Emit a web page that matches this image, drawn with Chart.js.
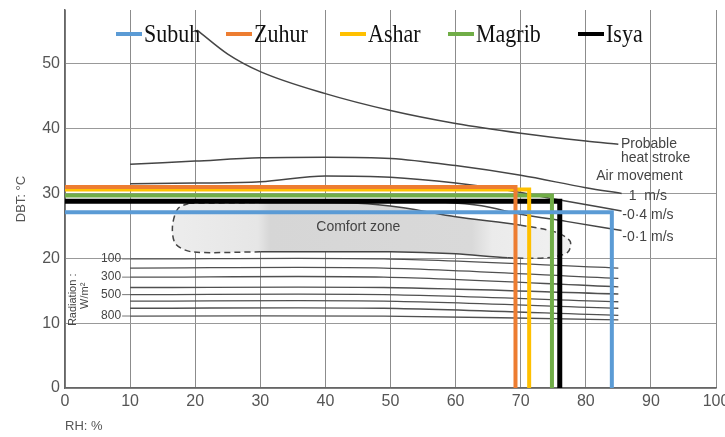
<!DOCTYPE html>
<html>
<head>
<meta charset="utf-8">
<script src="https://cdn.jsdelivr.net/npm/chart.js@4.4.1/dist/chart.umd.min.js"></script>
<style>
    html, body { margin: 0; padding: 0; background: #fff; }
    #wrap { width: 725px; height: 437px; }
</style>
</head>
<body>
<div id="wrap"><canvas id="bioChart" width="725" height="437"></canvas></div>
<script>
// room condition at each prayer time (RH %, DBT °C)
const sessions = ['Subuh', 'Zuhur', 'Ashar', 'Magrib', 'Isya'];
const rhValues = [84.0, 69.2, 71.3, 74.8, 76.0];
const dbtValues = [27.1, 31.0, 30.6, 29.7, 28.8];

// axis ticks
const rhTicks = [0, 10, 20, 30, 40, 50, 60, 70, 80, 90, 100];
const dbtTicks = [0, 10, 20, 30, 40, 50];

// bioclimatic chart curves, [RH, DBT]
const heatStroke = [[20.3, 55.2], [25, 51.5], [30, 48.8], [40, 45.4], [50, 42.8], [60, 40.8], [70, 39.3], [80, 38.1], [85, 37.6]];
const air1 = [[10, 34.5], [20, 35.0], [30, 35.5], [40, 35.6], [50, 35.4], [60, 34.3], [70, 32.8], [80, 30.9], [85.5, 30.0]];
const air04 = [[10, 31.5], [20, 31.6], [30, 31.8], [40, 32.7], [50, 32.5], [60, 31.6], [68, 30.5], [76, 29.0], [85.5, 27.3]];
const air01 = [[50, 29.0], [58, 28.7], [64, 28.1], [70, 26.8], [77, 25.7], [85.5, 24.3]];
const comfortZone = [[19, 28.5], [30, 28.6], [45, 28.5], [52, 27.8], [60, 26.4], [70, 25.1], [75.5, 24.0], [77.6, 22.6],
    [77.2, 20.9], [74, 20.1], [68, 20.1], [60, 20.7], [50, 21.0], [30, 21.0], [19.5, 21.0], [17, 22.2], [16.5, 24.8], [17.3, 27.6], [19, 28.5]];

// radiation lines (W/m2): DBT at RH 10, RH 49 and RH 85
const radLevels = [100, 200, 300, 400, 500, 600, 700, 800];
const radRH = [10, 49, 85];
const radAtLeft = [19.9, 18.5, 17.1, 15.5, 14.4, 13.4, 12.3, 11.1];
const radAtRight = [18.5, 16.9, 15.6, 14.5, 13.3, 12.3, 11.2, 10.5];
const radShown = [100, 300, 500, 800];

const sessionColors = ['#5b9bd5', '#ed7d31', '#ffc000', '#70ad47', '#000000'];
const legendSlots = [116, 226, 340, 448, 578];
const ink = '#454545';

const toPts = arr => arr.map(p => ({ x: p[0], y: p[1] }));

function curve(label, arr) {
    return {
        label: label,
        data: toPts(arr),
        borderColor: ink,
        borderWidth: 1.5,
        pointRadius: 0,
        cubicInterpolationMode: 'monotone',
        fill: false,
        order: 5
    };
}

let datasets = sessions.map((name, i) => ({
    label: name,
    data: [{ x: 0, y: dbtValues[i] }, { x: rhValues[i], y: dbtValues[i] }, { x: rhValues[i], y: 0 }],
    borderColor: sessionColors[i],
    borderWidth: i == 4 ? 5 : 4,
    pointRadius: 0,
    tension: 0,
    fill: false,
    order: 0
}));

// comfort zone: one dataset for the grey area, one for the outline
datasets.push({
    label: 'Comfort zone area',
    data: toPts(comfortZone),
    borderWidth: 0,
    borderColor: 'rgba(0,0,0,0)',
    pointRadius: 0,
    tension: 0.3,
    fill: 'shape',
    backgroundColor: (c) => {
        const chart = c.chart;
        if (!chart.chartArea) return '#dddddd';
        const xs = chart.scales.x;
        const g = chart.ctx.createLinearGradient(xs.getPixelForValue(16), 0, xs.getPixelForValue(78), 0);
        g.addColorStop(0, '#ededed');
        g.addColorStop(0.22, '#e6e6e6');
        g.addColorStop(0.25, '#d6d6d6');
        g.addColorStop(0.75, '#d9d9d9');
        g.addColorStop(0.8, '#ebebeb');
        g.addColorStop(1, '#f1f1f1');
        return g;
    },
    order: 7
});
datasets.push({
    label: 'Comfort zone',
    data: toPts(comfortZone),
    borderColor: ink,
    borderWidth: 1.5,
    borderDash: [],
    pointRadius: 0,
    tension: 0.3,
    fill: false,
    segment: {
        borderDash: (c) => {
            const a = comfortZone[c.p0DataIndex], b = comfortZone[c.p1DataIndex];
            const solid = Math.min(a[0], b[0]) >= 29 && Math.max(a[0], b[0]) <= 70.5;
            return solid ? [] : [6, 4];
        }
    },
    order: 6
});

datasets.push(curve('Probable heat stroke', heatStroke));
datasets.push(curve('1 m/s', air1));
datasets.push(curve('0·4 m/s', air04));
datasets.push(curve('0·1 m/s', air01));

radLevels.forEach((lv, i) => {
    datasets.push({
        label: lv + ' W/m²',
        data: [{ x: radRH[0], y: radAtLeft[i] }, { x: radRH[1], y: radAtLeft[i] }, { x: radRH[2], y: radAtRight[i] }],
        borderColor: '#505050',
        borderWidth: 1.3,
        pointRadius: 0,
        tension: 0.3,
        fill: false,
        order: 5
    });
});

// text written on the chart itself
const chartNotes = [
    { text: 'Probable', x: 85.4, y: 37.6, size: 14 },
    { text: 'heat stroke', x: 85.4, y: 35.5, size: 14 },
    { text: 'Air movement', x: 81.6, y: 32.6, size: 14 },
    { text: '1  m/s', x: 86.6, y: 29.6, size: 14 },
    { text: '-0·4 m/s', x: 85.6, y: 26.7, size: 14 },
    { text: '-0·1 m/s', x: 85.6, y: 23.3, size: 14 },
    { text: 'Comfort zone', x: 38.6, y: 24.8, size: 14 }
];

const notesPlugin = {
    id: 'notesPlugin',
    afterDatasetsDraw(chart) {
        const ctx = chart.ctx, xs = chart.scales.x, ys = chart.scales.y;
        ctx.save();
        ctx.fillStyle = '#444';
        ctx.textBaseline = 'middle';
        chartNotes.forEach(n => {
            ctx.font = n.size + 'px "Liberation Sans"';
            ctx.fillText(n.text, xs.getPixelForValue(n.x), ys.getPixelForValue(n.y));
        });
        // radiation labels
        ctx.font = '12px "Liberation Sans"';
        ctx.textAlign = 'right';
        ctx.strokeStyle = '#777';
        ctx.lineWidth = 1;
        radLevels.forEach((lv, i) => {
            if (radShown.indexOf(lv) < 0) return;
            const py = ys.getPixelForValue(radAtLeft[i]);
            const px = xs.getPixelForValue(radRH[0]);
            ctx.fillText(String(lv), px - 9, py);
            ctx.beginPath();
            ctx.moveTo(px - 8, py);
            ctx.lineTo(px, py);
            ctx.stroke();
        });
        ctx.textAlign = 'center';
        ctx.font = '11px "Liberation Sans"';
        ctx.translate(xs.getPixelForValue(1.3), ys.getPixelForValue(13.6));
        ctx.rotate(-Math.PI / 2);
        ctx.fillText('Radiation :', 0, 0);
        ctx.fillText('W/m²', 4, 12);
        ctx.restore();
    }
};

const sessionLegend = {
    id: 'sessionLegend',
    afterDraw(chart) {
        const ctx = chart.ctx;
        ctx.save();
        ctx.font = '22px "Liberation Serif"';
        ctx.textBaseline = 'middle';
        sessions.forEach((name, i) => {
            const x = legendSlots[i];
            ctx.strokeStyle = sessionColors[i];
            ctx.lineWidth = 4;
            ctx.beginPath();
            ctx.moveTo(x, 34);
            ctx.lineTo(x + 26, 34);
            ctx.stroke();
            ctx.save();
            ctx.translate(x + 28, 34);
            ctx.scale(1, 1.15);
            ctx.fillStyle = '#111';
            ctx.fillText(name, 0, 1);
            ctx.restore();
        });
        ctx.restore();
    }
};

const tickFont = { family: 'Liberation Sans', size: 16 };

new Chart(document.getElementById('bioChart'), {
    type: 'line',
    data: { datasets: datasets },
    options: {
        responsive: false,
        animation: false,
        devicePixelRatio: 1,
        layout: { padding: { top: 10, right: 9, left: 0, bottom: 0 } },
        plugins: {
            legend: { display: false },
            tooltip: { enabled: false }
        },
        scales: {
            x: {
                type: 'linear',
                min: 0,
                max: 100,
                afterBuildTicks: s => { s.ticks = rhTicks.map(v => ({ value: v })); },
                afterFit: s => { s.height = 49; s.paddingLeft = 0; s.paddingRight = 0; },
                ticks: { font: tickFont, color: '#555', padding: 4 },
                grid: { color: '#8c8c8c', lineWidth: 1, drawTicks: false },
                border: { color: '#666', width: 1.5 },
                title: {
                    display: true, text: 'RH: %', align: 'start', color: '#555',
                    font: { family: 'Liberation Sans', size: 13 }, padding: { top: 0, bottom: 3 }
                }
            },
            y: {
                type: 'linear',
                min: 0,
                max: 58.3,
                afterBuildTicks: s => { s.ticks = dbtTicks.map(v => ({ value: v })); },
                afterFit: s => { s.width = 65; s.paddingTop = 0; s.paddingBottom = 0; },
                ticks: { font: tickFont, color: '#555', padding: 5 },
                grid: { color: '#999', lineWidth: 1, drawTicks: false },
                border: { color: '#666', width: 1.5 },
                title: {
                    display: true, text: 'DBT: °C', color: '#555',
                    font: { family: 'Liberation Sans', size: 13 }, padding: { top: 14, bottom: 0 }
                }
            }
        }
    },
    plugins: [notesPlugin, sessionLegend]
});
</script>
</body>
</html>
